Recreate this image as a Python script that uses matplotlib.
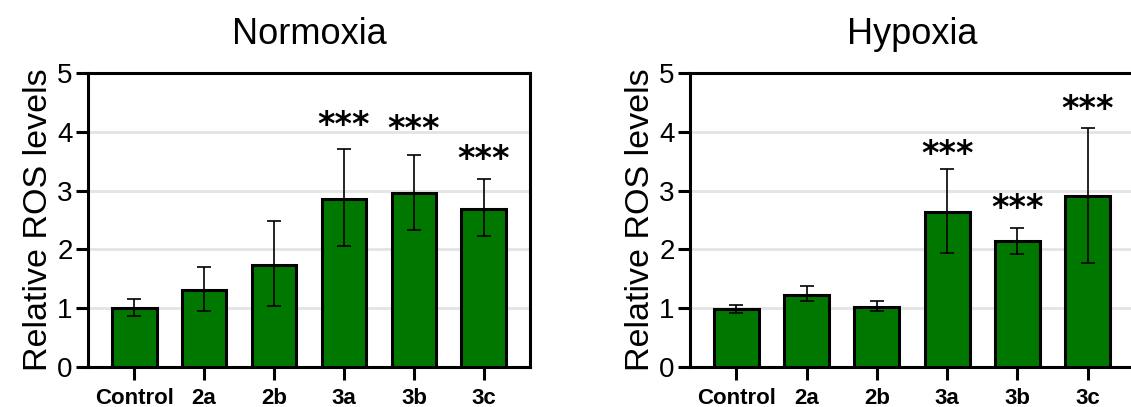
import numpy as np
import matplotlib.pyplot as plt
from matplotlib.transforms import offset_copy

plt.rcParams['font.family'] = ['Liberation Sans', 'DejaVu Sans']

groups = ['Control', '2a', '2b', '3a', '3b', '3c']

# Normoxia: mean, lower and upper error bounds
normoxia_mean = [1.00, 1.31, 1.74, 2.86, 2.96, 2.69]
normoxia_low = [0.86, 0.95, 1.03, 2.06, 2.33, 2.23]
normoxia_high = [1.15, 1.70, 2.49, 3.70, 3.61, 3.19]
normoxia_sig = ['', '', '', '***', '***', '***']
normoxia_sig_y = [0, 0, 0, 4.22, 4.15, 3.64]

# Hypoxia
hypoxia_mean = [0.98, 1.23, 1.02, 2.64, 2.14, 2.91]
hypoxia_low = [0.92, 1.12, 0.95, 1.94, 1.93, 1.77]
hypoxia_high = [1.05, 1.37, 1.13, 3.36, 2.37, 4.07]
hypoxia_sig = ['', '', '', '***', '***', '***']
hypoxia_sig_y = [0, 0, 0, 3.74, 2.81, 4.49]

green = '#007800'

fig = plt.figure(figsize=(11.31, 4.07), dpi=100)
ax1 = fig.add_axes([0.0778, 0.0983, 0.3908, 0.7224])
# right panel runs slightly past the figure edge
ax2 = fig.add_axes([0.6101, 0.0983, 0.3925, 0.7224])


def draw(ax, title, mean, low, high, sig, sig_y):
    x = np.arange(len(groups))
    mean = np.array(mean)
    yerr = [mean - np.array(low), np.array(high) - mean]
    ax.bar(x, mean, width=0.64, color=green, edgecolor='black',
           linewidth=2.2, zorder=3)
    ax.errorbar(x, mean, yerr=yerr, fmt='none', ecolor='black',
                elinewidth=1.2, capsize=5, capthick=1.2, zorder=4)
    # asterisk glyphs sit high in the em box, nudge them down a bit
    star_tr = offset_copy(ax.transData, fig=fig, y=-5, units='points')
    for xi, s, ys in zip(x, sig, sig_y):
        if s:
            ax.text(xi, ys, s, ha='center', va='center', fontsize=24,
                    fontweight='bold', family='DejaVu Sans',
                    transform=star_tr)
    ax.set_xlim(-0.66, len(groups) - 1 + 0.66)
    ax.set_ylim(0, 5)
    ax.set_yticks(range(6))
    ax.set_xticks(x)
    ax.set_xticklabels(groups, fontsize=16, fontweight='bold')
    ax.tick_params(axis='y', labelsize=20, length=9, width=2.2, pad=2)
    ax.tick_params(axis='x', length=9, width=2.2, pad=6)
    ax.set_ylabel('Relative ROS levels', fontsize=24.5, labelpad=2)
    ax.set_title(title, fontsize=26, pad=21)
    ax.grid(axis='y', color='#e4e4e4', linewidth=2, zorder=0)
    ax.set_axisbelow(True)
    for sp in ax.spines.values():
        sp.set_linewidth(2.2)


draw(ax1, 'Normoxia', normoxia_mean, normoxia_low, normoxia_high,
     normoxia_sig, normoxia_sig_y)
draw(ax2, 'Hypoxia', hypoxia_mean, hypoxia_low, hypoxia_high,
     hypoxia_sig, hypoxia_sig_y)

fig.savefig('out.png', dpi=100)
